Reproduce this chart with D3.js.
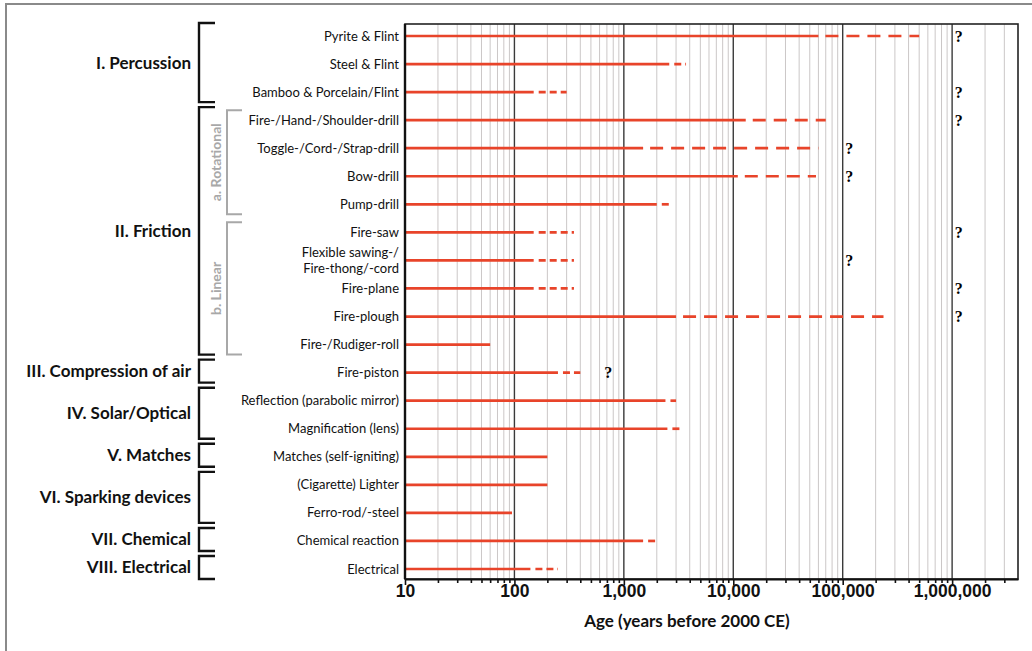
<!DOCTYPE html>
<html lang="en">
<head>
<meta charset="UTF-8">
<title>Fire-making methods through time</title>
<script src="https://cdnjs.cloudflare.com/ajax/libs/d3/7.8.5/d3.min.js"></script>
<style>
    html, body { margin: 0; padding: 0; background: #fff; }
    svg { display: block; font-family: Lato, "Open Sans", sans-serif; }
</style>
</head>
<body>
<svg id="chart" width="1032" height="651"></svg>
<script>
    // fire-making methods, top to bottom
    const methods = [
        "Pyrite & Flint", "Steel & Flint", "Bamboo & Porcelain/Flint",
        "Fire-/Hand-/Shoulder-drill", "Toggle-/Cord-/Strap-drill", "Bow-drill", "Pump-drill",
        "Fire-saw", "Flexible sawing-/|Fire-thong/-cord", "Fire-plane", "Fire-plough", "Fire-/Rudiger-roll",
        "Fire-piston", "Reflection (parabolic mirror)", "Magnification (lens)",
        "Matches (self-igniting)", "(Cigarette) Lighter", "Ferro-rod/-steel",
        "Chemical reaction", "Electrical"
    ];
    // years before 2000 CE: certain range, uncertain (dashed) extension, "?" marker
    const solidAge = [60000, 2600, 150, 13000, 1500, 11000, 2000, 150, 150, 150, 3000, 60, 250, 2400, 2500, 200, 200, 95, 1500, 140];
    const dashedAge = [500000, 3700, 300, 70000, 60000, 57000, 2700, 350, 350, 350, 236000, null, 400, 3000, 3300, null, null, null, 2000, 250];
    const questionAge = [1150000, null, 1150000, 1150000, 115000, 115000, null, 1150000, 115000, 1150000, 1150000, null, 720, null, null, null, null, null, null, null];

    const groupNames = ["I. Percussion", "II. Friction", "III. Compression of air", "IV. Solar/Optical",
        "V. Matches", "VI. Sparking devices", "VII. Chemical", "VIII. Electrical"];
    const groupFirst = [0, 3, 12, 13, 15, 16, 18, 19];
    const groupLast = [2, 11, 12, 14, 15, 17, 18, 19];

    const subNames = ["a. Rotational", "b. Linear"];
    const subFirst = [3, 7];
    const subLast = [6, 11];

    const decadeTicks = [10, 100, 1000, 10000, 100000, 1000000];

    const svg = d3.select("#chart");
    const plot = {left: 405, right: 1018, top: 24, bottom: 579};
    const barColor = "#e8442a";

    svg.append("rect").attr("width", 1032).attr("height", 651).attr("fill", "#fff");
    // outer frame of the figure
    svg.append("path").attr("d", "M6,660V4H1040")
        .attr("fill", "none").attr("stroke", "#8a8a8a").attr("stroke-width", 2);

    const x = d3.scaleLog().domain([10, 4000000]).range([plot.left, plot.right]);
    const y = d3.scalePoint().domain(d3.range(methods.length)).range([36, 569]);

    // all log gridlines 10 .. 3,000,000
    const allTicks = [];
    decadeTicks.forEach(d => d3.range(1, 10).forEach(m => { if (d * m < 4000000) allTicks.push(d * m); }));
    const isDecade = v => decadeTicks.includes(v);

    svg.append("g").selectAll("line")
        .data(allTicks.filter(v => !isDecade(v)))
        .join("line")
        .attr("x1", d => x(d)).attr("x2", d => x(d))
        .attr("y1", plot.top).attr("y2", plot.bottom)
        .attr("stroke", "#cbc7c7").attr("stroke-width", 1);

    svg.append("g").selectAll("line")
        .data(decadeTicks.slice(1))
        .join("line")
        .attr("x1", d => x(d)).attr("x2", d => x(d))
        .attr("y1", plot.top).attr("y2", plot.bottom)
        .attr("stroke", "#3a3a3a").attr("stroke-width", 1.4);

    // bars
    const bars = svg.append("g");
    bars.selectAll("line.solid")
        .data(methods.map((m, i) => i))
        .join("line")
        .attr("class", "solid")
        .attr("x1", x(10)).attr("x2", i => x(solidAge[i]))
        .attr("y1", i => y(i)).attr("y2", i => y(i))
        .attr("stroke", barColor).attr("stroke-width", 2.7);

    // uncertain extension: shorter dashes where the stretch is short
    const dashGap = i => (x(dashedAge[i]) - x(solidAge[i]) < 50 ? 5 : 7);
    bars.selectAll("line.dashed")
        .data(methods.map((m, i) => i).filter(i => dashedAge[i] != null))
        .join("line")
        .attr("class", "dashed")
        .attr("x1", i => x(solidAge[i]) + dashGap(i)).attr("x2", i => x(dashedAge[i]))
        .attr("y1", i => y(i)).attr("y2", i => y(i))
        .attr("stroke", barColor).attr("stroke-width", 2.7)
        .attr("stroke-dasharray", i => dashGap(i) === 5 ? "7,4" : "13,8");

    svg.append("g").selectAll("text")
        .data(methods.map((m, i) => i).filter(i => questionAge[i] != null))
        .join("text")
        .attr("x", i => x(questionAge[i])).attr("y", i => y(i))
        .attr("dy", "0.35em")
        .attr("text-anchor", "middle")
        .style("font-family", "'Liberation Serif', serif")
        .style("font-weight", "bold").style("font-size", "16px")
        .text("?");

    // plot frame
    svg.append("rect")
        .attr("x", plot.left).attr("y", plot.top)
        .attr("width", plot.right - plot.left).attr("height", plot.bottom - plot.top)
        .attr("fill", "none").attr("stroke", "#222").attr("stroke-width", 1.6);
    svg.append("line")
        .attr("x1", plot.left).attr("x2", plot.left)
        .attr("y1", plot.top).attr("y2", plot.bottom)
        .attr("stroke", "#111").attr("stroke-width", 2.4);

    // bottom axis
    const axis = d3.axisBottom(x)
        .tickValues(allTicks)
        .tickSizeInner(4).tickSizeOuter(0)
        .tickFormat(d => isDecade(d) ? d3.format(",")(d) : "");
    const gx = svg.append("g")
        .attr("transform", `translate(0,${plot.bottom})`)
        .call(axis);
    gx.select(".domain").attr("stroke", "#111").attr("stroke-width", 2.2);
    gx.selectAll(".tick line").attr("stroke", "#111").attr("stroke-width", 1.6)
        .attr("y2", d => isDecade(d) ? 6 : 4);
    gx.selectAll(".tick text")
        .attr("y", 6)
        .style("font-size", "17.5px").style("font-weight", "bold").attr("fill", "#111");

    svg.append("text")
        .attr("x", 687).attr("y", 627)
        .attr("text-anchor", "middle")
        .style("font-size", "17px").style("font-weight", "bold").attr("fill", "#111")
        .text("Age (years before 2000 CE)");

    // method labels
    const labels = svg.append("g")
        .selectAll("text")
        .data(methods.map((m, i) => i))
        .join("text")
        .attr("x", 399).attr("y", i => y(i))
        .attr("text-anchor", "end")
        .style("font-size", "13px").attr("fill", "#111");
    labels.each(function (i) {
        const parts = methods[i].split("|");
        const t = d3.select(this);
        parts.forEach((p, k) => {
            t.append("tspan")
                .attr("x", 399)
                .attr("dy", k === 0 ? `${0.35 - (parts.length - 1) * 0.6}em` : "1.25em")
                .text(p);
        });
    });

    // group brackets
    const gb = svg.append("g");
    groupNames.forEach((name, g) => {
        const y0 = y(groupFirst[g]) - 13, y1 = y(groupLast[g]) + 10;
        gb.append("path")
            .attr("d", `M215,${y0}H199V${y1}H215`)
            .attr("fill", "none").attr("stroke", "#111").attr("stroke-width", 2.4);
        gb.append("text")
            .attr("x", 191).attr("y", (y0 + y1) / 2)
            .attr("dy", "0.35em").attr("text-anchor", "end")
            .style("font-size", "17px").style("font-weight", "bold").attr("fill", "#111")
            .text(name);
    });

    subNames.forEach((name, s) => {
        const y0 = y(subFirst[s]) - 10, y1 = y(subLast[s]) + 10;
        gb.append("path")
            .attr("d", `M242,${y0}H227V${y1}H242`)
            .attr("fill", "none").attr("stroke", "#a8a8a8").attr("stroke-width", 2);
        gb.append("text")
            .attr("transform", `translate(216,${(y0 + y1) / 2}) rotate(-90)`)
            .attr("dy", "0.35em").attr("text-anchor", "middle")
            .style("font-size", "14px").style("font-weight", "bold").attr("fill", "#a8a8a8")
            .text(name);
    });
</script>
</body>
</html>
